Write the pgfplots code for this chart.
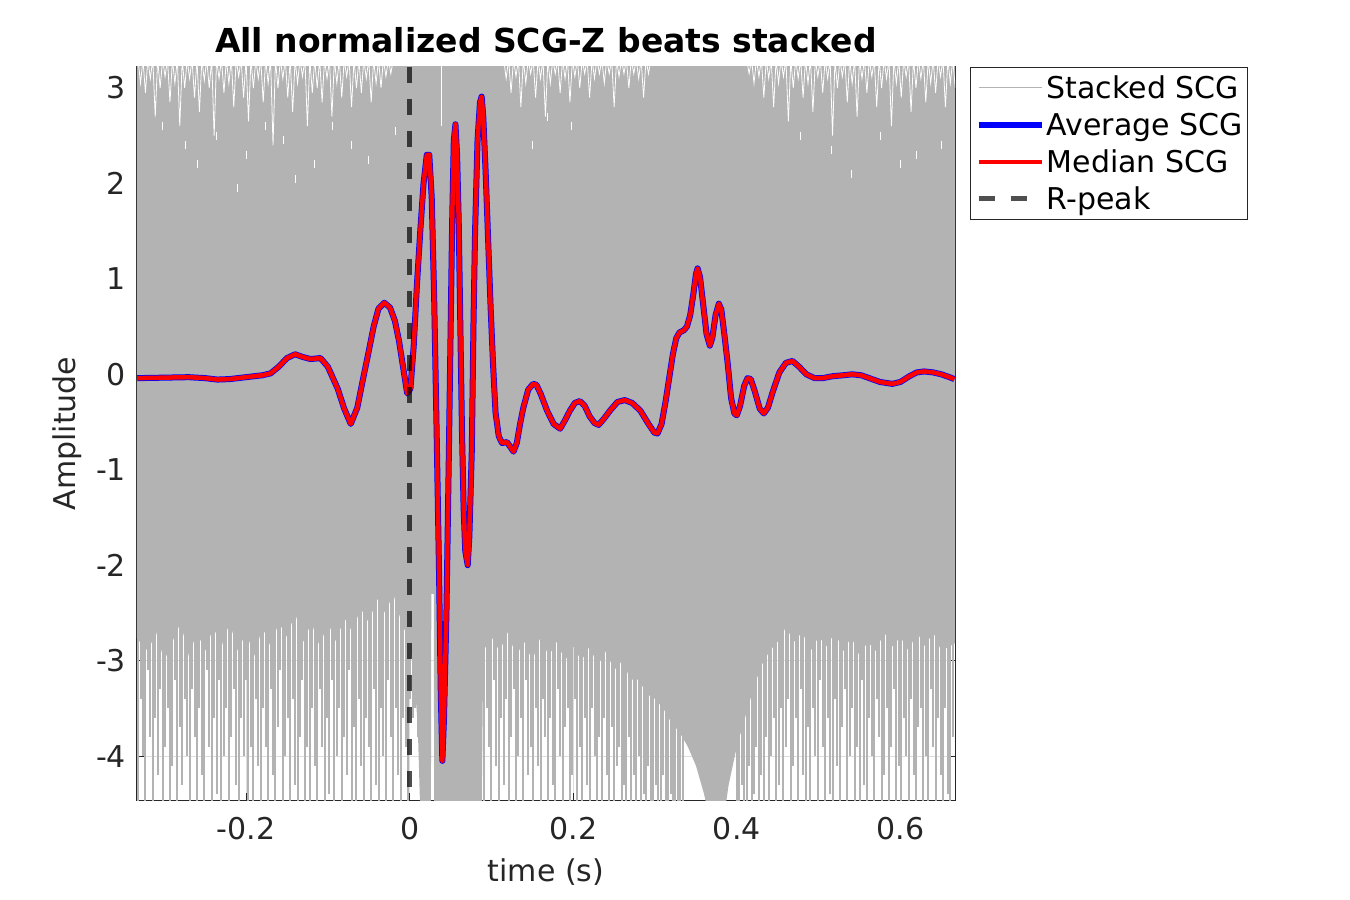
\documentclass[border=0pt]{standalone}
\usepackage{pgfplots}
\pgfplotsset{compat=1.18}
\usepackage{fontspec}
\setmainfont{DejaVu Sans}
\definecolor{stackgray}{RGB}{179,179,179}
\definecolor{axgray}{RGB}{38,38,38}
\definecolor{gridgray}{RGB}{222,222,222}
\begin{document}
\begin{tikzpicture}
\useasboundingbox (-68.5pt,-50pt) rectangle (606.5pt,400pt);
\begin{axis}[
  at={(0,0)}, anchor=south west,
  scale only axis, width=409pt, height=366.5pt,
  xmin=-0.3333, xmax=0.6667, ymin=-4.46, ymax=3.22,
  xtick={-0.2,0,0.2,0.4,0.6}, xticklabels={-0.2,0,0.2,0.4,0.6},
  ytick={-4,-3,-2,-1,0,1,2,3}, yticklabels={-4,-3,-2,-1,0,1,2,3},
  tick align=inside, tick pos=both, major tick length=3.5pt,
  axis line style={axgray, line width=0.5pt},
  every tick/.style={axgray, line width=0.5pt},
  grid=major, grid style={gridgray, line width=0.5pt},
  tick label style={font=\fontsize{15}{18}\selectfont, text=axgray},
  xticklabel style={yshift=-5pt},
  yticklabel style={xshift=-2pt},
  title={All normalized SCG-Z beats stacked},
  title style={font=\fontsize{16.5}{19}\selectfont\bfseries, at={(axis description cs:0.5,1.0191)}, anchor=base, yshift=-6pt},
  xlabel={time (s)},
  xlabel style={font=\fontsize{15}{18}\selectfont, text=axgray, at={(axis description cs:0.5,-0.0982)}, anchor=center},
  ylabel={Amplitude},
  ylabel style={font=\fontsize{15}{18}\selectfont, text=axgray, at={(axis description cs:-0.0856,0.5)}, anchor=center},
  legend style={at={(1,1)}, anchor=north west, xshift=7.5pt, draw=axgray, line width=0.5pt,
    font=\fontsize{15}{18}\selectfont, inner xsep=2.6pt, inner ysep=1pt, row sep=0pt,
    nodes={inner xsep=0pt, inner ysep=1.75pt, text height=12.9pt, text depth=2.1pt}},
  legend cell align=left,
  legend image code/.code={\path[draw=none] (0pt,0pt) -- (34.6pt,0pt); \draw[#1] (0.6pt,0pt) -- (32.2pt,0pt);},
]
% dense part of the stacked beats
\addplot[fill=stackgray, draw=none, forget plot] coordinates {
(-0.34,-2.7) (-0.32,-2.9) (-0.31,-2.7) (-0.30,-3.0) (-0.29,-2.8) (-0.28,-2.6) (-0.27,-2.95) (-0.26,-2.7)
(-0.25,-2.9) (-0.24,-2.65) (-0.23,-2.85) (-0.22,-2.6) (-0.21,-2.9) (-0.20,-2.7) (-0.19,-2.95) (-0.18,-2.65)
(-0.17,-2.85) (-0.16,-2.6) (-0.15,-2.75) (-0.14,-2.5) (-0.13,-2.8) (-0.12,-2.6) (-0.11,-2.85) (-0.10,-2.6)
(-0.09,-2.8) (-0.08,-2.55) (-0.07,-2.7) (-0.06,-2.45) (-0.05,-2.6) (-0.04,-2.35) (-0.03,-2.5) (-0.02,-2.3)
(-0.01,-2.6) (0.0,-2.8) (0.006,-3.2) (0.010,-3.7) (0.013,-4.6) (0.026,-4.6) (0.0265,-2.3) (0.0295,-2.3)
(0.030,-4.6) (0.088,-4.6) (0.090,-2.9) (0.10,-2.75) (0.11,-2.9) (0.12,-2.7) (0.13,-2.95) (0.14,-2.8)
(0.15,-3.0) (0.16,-2.75) (0.17,-2.95) (0.18,-2.8) (0.19,-3.0) (0.20,-2.85) (0.21,-3.0) (0.22,-2.85)
(0.23,-3.05) (0.24,-2.9) (0.25,-3.1) (0.26,-3.0) (0.27,-3.2) (0.28,-3.2) (0.29,-3.35) (0.30,-3.4)
(0.31,-3.5) (0.32,-3.65) (0.33,-3.75) (0.34,-3.9) (0.35,-4.1) (0.36,-4.4) (0.365,-4.6) (0.385,-4.6)
(0.39,-4.3) (0.40,-3.9) (0.41,-3.6) (0.42,-3.3) (0.43,-3.05) (0.44,-2.9) (0.45,-2.8) (0.46,-2.65)
(0.47,-2.8) (0.48,-2.7) (0.49,-2.9) (0.50,-2.75) (0.51,-2.85) (0.52,-2.7) (0.53,-2.9) (0.54,-2.75)
(0.55,-2.95) (0.56,-2.8) (0.57,-2.9) (0.58,-2.7) (0.59,-2.85) (0.60,-2.75) (0.61,-2.9) (0.62,-2.7)
(0.63,-2.85) (0.64,-2.7) (0.65,-2.9) (0.67,-2.8) (0.67,3.4) (-0.34,3.4)
};
% sparse tails of the stacked beats (single beats reaching far down)
\addplot[ycomb, stackgray, line width=1pt, forget plot] coordinates {
(-0.332,-4.5) (-0.329,-3.4) (-0.326,-4.0) (-0.323,-4.5) (-0.320,-3.1) (-0.317,-3.8) (-0.314,-4.5) (-0.311,-3.6) (-0.308,-4.2) (-0.305,-3.3)
(-0.302,-4.5) (-0.299,-3.9) (-0.296,-3.5) (-0.293,-4.5) (-0.290,-4.1) (-0.287,-3.2) (-0.284,-4.5) (-0.281,-3.7) (-0.278,-4.3) (-0.275,-3.4)
(-0.272,-4.0) (-0.269,-4.5) (-0.266,-3.3) (-0.263,-3.8) (-0.260,-4.5) (-0.257,-3.5) (-0.254,-4.2) (-0.251,-4.5) (-0.248,-3.1) (-0.245,-3.9)
(-0.242,-4.5) (-0.239,-3.6) (-0.236,-4.4) (-0.233,-3.2) (-0.230,-4.5) (-0.227,-4.0) (-0.224,-3.5) (-0.221,-4.5) (-0.218,-3.8) (-0.215,-3.3)
(-0.212,-4.3) (-0.209,-4.5) (-0.206,-3.6) (-0.203,-4.0) (-0.200,-3.2) (-0.197,-4.5) (-0.194,-3.9) (-0.191,-4.5) (-0.188,-3.4) (-0.185,-4.1)
(-0.182,-4.5) (-0.179,-3.5) (-0.176,-3.9) (-0.173,-4.5) (-0.170,-3.3) (-0.167,-4.2) (-0.164,-4.5) (-0.161,-3.7) (-0.158,-3.1) (-0.155,-4.5)
(-0.152,-4.0) (-0.149,-3.6) (-0.146,-4.5) (-0.143,-3.4) (-0.140,-4.3) (-0.137,-4.5) (-0.134,-3.8) (-0.131,-3.2) (-0.128,-4.5) (-0.125,-3.9)
(-0.122,-4.5) (-0.119,-3.5) (-0.116,-4.1) (-0.113,-4.5) (-0.110,-3.3) (-0.107,-3.9) (-0.104,-4.5) (-0.101,-3.6) (-0.098,-4.4) (-0.095,-3.2)
(-0.092,-4.5) (-0.089,-4.0) (-0.086,-3.5) (-0.083,-4.5) (-0.080,-3.8) (-0.077,-4.2) (-0.074,-3.1) (-0.071,-4.5) (-0.068,-3.7) (-0.065,-4.5)
(-0.062,-3.4) (-0.059,-4.1) (-0.056,-4.5) (-0.053,-3.6) (-0.050,-3.9) (-0.047,-4.5) (-0.044,-3.3) (-0.041,-4.3) (-0.038,-4.5) (-0.035,-3.5)
(-0.032,-4.0) (-0.029,-4.5) (-0.026,-3.2) (-0.023,-3.8) (-0.020,-4.5) (-0.017,-3.5) (-0.014,-4.2) (-0.011,-4.5) (-0.008,-3.6) (-0.005,-3.9)
(-0.002,-4.5) (0.001,-3.4) (0.004,-3.6) (0.007,-3.5) (0.010,-3.8)
};
\addplot[ycomb, stackgray, line width=1pt, forget plot] coordinates {
(0.091,-4.5) (0.094,-3.5) (0.097,-3.9) (0.100,-4.5) (0.103,-3.2) (0.106,-4.1) (0.109,-4.5) (0.112,-3.6) (0.115,-4.3) (0.118,-3.4)
(0.121,-4.5) (0.124,-3.8) (0.127,-3.3) (0.130,-4.5) (0.133,-4.0) (0.136,-3.6) (0.139,-4.5) (0.142,-3.2) (0.145,-4.2) (0.148,-3.9)
(0.151,-4.5) (0.154,-3.5) (0.157,-4.1) (0.160,-4.5) (0.163,-3.4) (0.166,-3.8) (0.169,-4.5) (0.172,-3.6) (0.175,-4.3) (0.178,-4.5)
(0.181,-3.3) (0.184,-4.0) (0.187,-4.5) (0.190,-3.7) (0.193,-3.5) (0.196,-4.5) (0.199,-4.2) (0.202,-3.4) (0.205,-4.5) (0.208,-3.9)
(0.211,-4.5) (0.214,-3.6) (0.217,-4.3) (0.220,-4.5) (0.223,-3.5) (0.226,-4.0) (0.229,-4.5) (0.232,-3.8) (0.235,-4.5) (0.238,-3.6)
(0.241,-4.2) (0.244,-4.5) (0.247,-3.7) (0.250,-4.5) (0.253,-4.1) (0.256,-3.9) (0.259,-4.5) (0.262,-4.3) (0.265,-4.5) (0.268,-3.8)
(0.271,-4.5) (0.274,-4.2) (0.277,-4.5) (0.280,-4.0) (0.283,-4.5) (0.286,-4.4) (0.289,-4.5) (0.292,-4.1) (0.295,-4.5) (0.298,-4.5)
(0.301,-4.3) (0.304,-4.5) (0.307,-4.5) (0.310,-4.2) (0.313,-4.5) (0.316,-4.5) (0.319,-4.4) (0.322,-4.5) (0.325,-4.5) (0.328,-4.5)
(0.331,-4.5) (0.334,-4.5)
};
\addplot[ycomb, stackgray, line width=1pt, forget plot] coordinates {
(0.400,-4.5) (0.403,-4.5) (0.406,-4.3) (0.409,-4.5) (0.412,-4.5) (0.415,-4.1) (0.418,-4.5) (0.421,-4.4) (0.424,-3.9) (0.427,-4.5)
(0.430,-4.2) (0.433,-4.5) (0.436,-3.8) (0.439,-4.5) (0.442,-4.0) (0.445,-3.6) (0.448,-4.5) (0.451,-4.3) (0.454,-3.5) (0.457,-4.5)
(0.460,-3.9) (0.463,-3.4) (0.466,-4.5) (0.469,-4.1) (0.472,-3.6) (0.475,-4.5) (0.478,-3.3) (0.481,-4.2) (0.484,-4.5) (0.487,-3.7)
(0.490,-4.5) (0.493,-3.5) (0.496,-4.0) (0.499,-4.5) (0.502,-3.2) (0.505,-3.9) (0.508,-4.5) (0.511,-3.6) (0.514,-4.4) (0.517,-4.5)
(0.520,-3.4) (0.523,-4.1) (0.526,-4.5) (0.529,-3.7) (0.532,-3.3) (0.535,-4.5) (0.538,-4.0) (0.541,-3.5) (0.544,-4.5) (0.547,-3.9)
(0.550,-4.5) (0.553,-3.2) (0.556,-4.3) (0.559,-4.5) (0.562,-3.6) (0.565,-4.0) (0.568,-4.5) (0.571,-3.4) (0.574,-3.8) (0.577,-4.5)
(0.580,-4.2) (0.583,-3.5) (0.586,-4.5) (0.589,-3.9) (0.592,-3.3) (0.595,-4.5) (0.598,-4.1) (0.601,-4.5) (0.604,-3.6) (0.607,-4.0)
(0.610,-4.5) (0.613,-3.4) (0.616,-4.2) (0.619,-4.5) (0.622,-3.7) (0.625,-3.5) (0.628,-4.5) (0.631,-4.0) (0.634,-4.5) (0.637,-3.3)
(0.640,-3.9) (0.643,-4.5) (0.646,-3.6) (0.649,-4.2) (0.652,-4.5) (0.655,-3.5) (0.658,-4.4) (0.661,-4.5) (0.664,-3.8)
};
% gaps between the beats near the top
\addplot[white, line width=0.4pt, forget plot] coordinates {
(-0.332,3.3) (-0.329,3.05) (-0.326,3.3) (-0.323,2.95) (-0.320,3.3) (-0.317,3.1) (-0.314,3.3) (-0.311,2.7) (-0.308,3.3) (-0.305,3.0)
(-0.302,3.3) (-0.299,3.12) (-0.296,3.3) (-0.293,2.85) (-0.290,3.3) (-0.287,3.05) (-0.284,3.3) (-0.281,2.6) (-0.278,3.3) (-0.275,3.0)
(-0.272,3.3) (-0.269,3.1) (-0.266,3.3) (-0.263,2.9) (-0.260,3.3) (-0.257,2.75) (-0.254,3.3) (-0.251,3.08) (-0.248,3.3) (-0.245,3.0)
(-0.242,3.3) (-0.239,2.5) (-0.236,3.3) (-0.233,3.1) (-0.230,3.3) (-0.227,2.95) (-0.224,3.3) (-0.221,3.05) (-0.218,3.3) (-0.215,2.8)
(-0.212,3.3) (-0.209,3.12) (-0.206,3.3) (-0.203,2.9) (-0.200,3.3) (-0.197,2.65) (-0.194,3.3) (-0.191,3.0) (-0.188,3.3) (-0.185,3.1)
(-0.182,3.3) (-0.179,2.85) (-0.176,3.3) (-0.173,3.05) (-0.170,3.3) (-0.167,2.4) (-0.164,3.3) (-0.161,3.0) (-0.158,3.3) (-0.155,3.1)
(-0.152,3.3) (-0.149,2.9) (-0.146,3.3) (-0.143,2.75) (-0.140,3.3) (-0.137,3.05) (-0.134,3.3) (-0.131,3.12) (-0.128,3.3) (-0.125,2.6)
(-0.122,3.3) (-0.119,2.95) (-0.116,3.3) (-0.113,3.0) (-0.110,3.3) (-0.107,2.85) (-0.104,3.3) (-0.101,3.1) (-0.098,3.3) (-0.095,2.7)
(-0.092,3.3) (-0.089,3.05) (-0.086,3.3) (-0.083,2.9) (-0.080,3.3) (-0.077,3.12) (-0.074,3.3) (-0.071,2.8) (-0.068,3.3) (-0.065,3.0)
(-0.062,3.3) (-0.059,2.95) (-0.056,3.3) (-0.053,3.1) (-0.050,3.3) (-0.047,2.85) (-0.044,3.3) (-0.041,3.05) (-0.038,3.3) (-0.035,3.0)
(-0.032,3.3) (-0.029,3.12) (-0.026,3.3) (-0.023,3.15) (-0.020,3.3)
};
\addplot[white, line width=0.4pt, forget plot] coordinates {
(0.115,3.3) (0.118,3.1) (0.121,3.3) (0.124,2.95) (0.127,3.3) (0.130,3.12) (0.133,3.3) (0.136,2.8) (0.139,3.3) (0.142,3.05)
(0.145,3.3) (0.148,3.15) (0.151,3.3) (0.154,2.9) (0.157,3.3) (0.160,3.1) (0.163,3.3) (0.166,2.7) (0.169,3.3) (0.172,3.05)
(0.175,3.3) (0.178,3.15) (0.181,3.3) (0.184,2.95) (0.187,3.3) (0.190,3.1) (0.193,3.3) (0.196,2.85) (0.199,3.3) (0.202,3.12)
(0.205,3.3) (0.208,3.0) (0.211,3.3) (0.214,3.15) (0.217,3.3) (0.220,2.9) (0.223,3.3) (0.226,3.1) (0.229,3.3) (0.232,3.15)
(0.235,3.3) (0.238,3.05) (0.241,3.3) (0.244,3.15) (0.247,3.3) (0.250,2.8) (0.253,3.3) (0.256,3.12) (0.259,3.3) (0.262,3.15)
(0.265,3.3) (0.268,3.0) (0.271,3.3) (0.274,3.15) (0.277,3.3) (0.280,3.1) (0.283,3.3) (0.286,2.9) (0.289,3.3) (0.292,3.15)
(0.295,3.3)
};
\addplot[white, line width=0.4pt, forget plot] coordinates {
(0.412,3.3) (0.415,3.15) (0.418,3.3) (0.421,3.05) (0.424,3.3) (0.427,3.12) (0.430,3.3) (0.433,2.9) (0.436,3.3) (0.439,3.1)
(0.442,3.3) (0.445,2.8) (0.448,3.3) (0.451,3.05) (0.454,3.3) (0.457,3.12) (0.460,3.3) (0.463,2.65) (0.466,3.3) (0.469,3.0)
(0.472,3.3) (0.475,3.1) (0.478,3.3) (0.481,2.9) (0.484,3.3) (0.487,3.05) (0.490,3.3) (0.493,2.75) (0.496,3.3) (0.499,3.12)
(0.502,3.3) (0.505,2.95) (0.508,3.3) (0.511,3.1) (0.514,3.3) (0.517,2.5) (0.520,3.3) (0.523,3.0) (0.526,3.3) (0.529,3.12)
(0.532,3.3) (0.535,2.85) (0.538,3.3) (0.541,3.05) (0.544,3.3) (0.547,2.7) (0.550,3.3) (0.553,3.1) (0.556,3.3) (0.559,2.95)
(0.562,3.3) (0.565,3.12) (0.568,3.3) (0.571,2.8) (0.574,3.3) (0.577,3.0) (0.580,3.3) (0.583,3.1) (0.586,3.3) (0.589,2.6)
(0.592,3.3) (0.595,3.05) (0.598,3.3) (0.601,2.9) (0.604,3.3) (0.607,3.12) (0.610,3.3) (0.613,2.75) (0.616,3.3) (0.619,3.0)
(0.622,3.3) (0.625,3.1) (0.628,3.3) (0.631,2.85) (0.634,3.3) (0.637,3.05) (0.640,3.3) (0.643,2.95) (0.646,3.3) (0.649,3.12)
(0.652,3.3) (0.655,2.8) (0.658,3.3) (0.661,3.05) (0.664,3.3) (0.667,3.0)
};
\addplot[only marks, mark=|, mark size=2pt, mark options={white, line width=0.4pt}, forget plot] coordinates {
(-0.302,2.6) (-0.274,2.4) (-0.236,2.5) (-0.199,2.3) (-0.176,2.6) (-0.154,2.45) (-0.116,2.2) (-0.094,2.6) (-0.071,2.4)
(-0.018,2.55) (-0.26,2.2) (-0.21,1.95) (-0.14,2.05) (-0.05,2.25)
(0.168,2.7) (0.198,2.6) (0.15,2.4)
(0.478,2.5) (0.515,2.35) (0.575,2.5) (0.62,2.3) (0.54,2.1) (0.6,2.2) (0.65,2.4)
};
\addplot[white, line width=0.6pt, forget plot] coordinates {(0.0385,3.3) (0.0385,2.6)};
\addlegendimage{stackgray, line width=0.5pt}
\addlegendentry{Stacked SCG}
\pgfplotstableread{
t v
-0.333 -0.04
-0.30 -0.035
-0.27 -0.03
-0.25 -0.04
-0.235 -0.055
-0.22 -0.05
-0.20 -0.03
-0.18 -0.01
-0.17 0.01
-0.16 0.08
-0.15 0.17
-0.14 0.21
-0.13 0.18
-0.121 0.16
-0.109 0.17
-0.100 0.08
-0.088 -0.15
-0.080 -0.36
-0.072 -0.52
-0.064 -0.35
-0.057 -0.05
-0.051 0.20
-0.044 0.50
-0.038 0.69
-0.031 0.75
-0.024 0.70
-0.018 0.56
-0.013 0.35
-0.007 0.02
-0.003 -0.20
0.001 -0.15
0.005 0.30
0.009 0.95
0.013 1.50
0.017 2.00
0.021 2.30
0.024 2.30
0.027 1.85
0.030 0.80
0.033 -0.60
0.036 -2.10
0.038 -3.30
0.040 -4.05
0.042 -3.60
0.045 -2.50
0.048 -0.80
0.050 0.40
0.052 1.60
0.054 2.45
0.056 2.62
0.058 2.30
0.060 1.60
0.062 0.50
0.064 -0.60
0.066 -1.40
0.068 -1.85
0.071 -2.00
0.073 -1.70
0.076 -0.80
0.078 0.50
0.080 1.50
0.083 2.45
0.086 2.85
0.088 2.91
0.090 2.70
0.093 2.10
0.096 1.40
0.099 0.70
0.102 0.10
0.105 -0.40
0.109 -0.65
0.113 -0.72
0.119 -0.71
0.123 -0.76
0.127 -0.81
0.131 -0.72
0.135 -0.52
0.139 -0.35
0.145 -0.16
0.151 -0.10
0.155 -0.11
0.160 -0.20
0.168 -0.38
0.176 -0.52
0.184 -0.57
0.190 -0.48
0.196 -0.38
0.202 -0.30
0.208 -0.28
0.214 -0.33
0.220 -0.44
0.226 -0.51
0.231 -0.53
0.238 -0.46
0.245 -0.38
0.254 -0.29
0.263 -0.27
0.272 -0.30
0.282 -0.38
0.292 -0.52
0.299 -0.61
0.303 -0.62
0.308 -0.52
0.313 -0.28
0.318 0.00
0.322 0.22
0.326 0.38
0.330 0.44
0.335 0.46
0.339 0.50
0.343 0.62
0.347 0.85
0.350 1.05
0.352 1.11
0.355 1.02
0.359 0.72
0.363 0.42
0.367 0.30
0.370 0.38
0.374 0.62
0.378 0.74
0.381 0.68
0.385 0.40
0.389 0.10
0.393 -0.25
0.397 -0.41
0.400 -0.43
0.404 -0.33
0.409 -0.12
0.413 -0.04
0.417 -0.05
0.422 -0.18
0.428 -0.36
0.433 -0.41
0.438 -0.35
0.444 -0.18
0.452 0.02
0.460 0.12
0.468 0.14
0.476 0.08
0.485 0.00
0.495 -0.04
0.505 -0.04
0.517 -0.02
0.530 -0.01
0.541 0.00
0.552 -0.01
0.562 -0.04
0.575 -0.08
0.590 -0.10
0.600 -0.08
0.611 -0.02
0.620 0.02
0.629 0.03
0.640 0.02
0.650 0.00
0.660 -0.03
0.666 -0.05
}\scgavg
\addplot[blue, line width=3pt, line join=round] table[x=t,y=v] {\scgavg};
\addlegendentry{Average SCG}
\addplot[red, line width=2.25pt, line join=round] table[x=t,y=v] {\scgavg};
\addlegendentry{Median SCG}
\addplot[black, opacity=0.69, line width=2.5pt, dash pattern=on 8pt off 8pt] coordinates {(0,3.22) (0,-4.46)};
\addlegendentry{R-peak}
\end{axis}
\end{tikzpicture}
\end{document}
